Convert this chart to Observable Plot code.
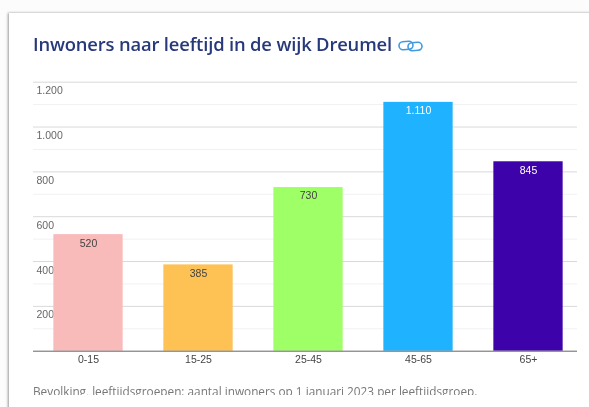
<!DOCTYPE html>
<html lang="nl">
<head>
<meta charset="utf-8">
<script src="https://cdn.jsdelivr.net/npm/d3@7"></script>
<script src="https://cdn.jsdelivr.net/npm/@observablehq/plot@0.6"></script>
<style>
html,body{margin:0;padding:0;background:#fff;}
#page{position:relative;width:589px;height:407px;overflow:hidden;background:#fcfcfc;filter:blur(.4px);}
#card{position:absolute;left:9px;top:13px;width:590px;height:400px;background:#fff;box-shadow:-1.5px -0.5px 2.5px rgba(0,0,0,.4);}
#title{position:absolute;left:33px;top:30px;margin:0;font:600 18.4px/28px "Open Sans","Noto Sans",sans-serif;color:#27397a;white-space:nowrap;letter-spacing:-.17px;}
#icon{position:absolute;left:398px;top:39px;}
#chart{position:absolute;left:0;top:72px;}
#caption{position:absolute;left:33px;top:381px;height:14px;overflow:hidden;margin:0;font:400 11.8px/20px "Open Sans","Noto Sans",sans-serif;color:#777;white-space:nowrap;}
#caption span{display:block;}
</style>
</head>
<body>
<div id="page">
  <div id="card"></div>
  <h1 id="title">Inwoners naar leeftijd in de wijk Dreumel</h1>
  <svg id="icon" width="25" height="14" viewBox="0 0 25 14" fill="none" stroke="#3f9be0" stroke-width="1.6">
    <rect x="1" y="2.5" width="14" height="8" rx="4" transform="rotate(-4 8 6.5)"/>
    <rect x="10" y="3.5" width="14" height="8" rx="4" transform="rotate(-4 17 7.5)"/>
  </svg>
  <div id="chart"></div>
  <p id="caption"><span>Bevolking, leeftijdsgroepen: aantal inwoners op 1 januari 2023 per leeftijdsgroep.</span></p>
</div>
<script>
const ageGroups = ["0-15", "15-25", "25-45", "45-65", "65+"];
const inhabitants = [520, 385, 730, 1110, 845];
const barColors = ["#f9baba", "#fdc154", "#9fff66", "#1eb2ff", "#3d02a9"];
const labelColors = ["#444444", "#444444", "#444444", "#ffffff", "#ffffff"];
const majorTicks = [200, 400, 600, 800, 1000, 1200];
const minorTicks = [100, 300, 500, 700, 900, 1100];

const rows = ageGroups.map((group, i) => ({group, value: inhabitants[i], color: barColors[i], label: labelColors[i]}));
const nl = v => String(v).replace(/\B(?=(\d{3})+$)/g, ".");
const font = '"Liberation Sans", Arial, sans-serif';

const plot = Plot.plot({
  width: 589,
  height: 300,
  marginTop: 9.7,
  marginBottom: 21.3,
  marginLeft: 33,
  marginRight: 12,
  style: {background: "transparent", fontFamily: font, fontSize: "10.5px", overflow: "visible"},
  x: {domain: ageGroups, range: [33, 583], paddingInner: 0.37, paddingOuter: 0.185, round: false, label: null, axis: null},
  y: {domain: [0, 1200], label: null, axis: null},
  marks: [
    Plot.ruleY(minorTicks, {stroke: "#f1f1f1", strokeWidth: 1}),
    Plot.ruleY(majorTicks, {stroke: "#d9d9d9", strokeWidth: 1}),
    Plot.text(majorTicks, {y: d => d, text: nl, frameAnchor: "left", textAnchor: "start", dx: 3, dy: 8.7, fill: "#666"}),
    Plot.barY(rows, {x: "group", y: "value", fill: "color"}),
    Plot.ruleY([0], {stroke: "#666", strokeWidth: 1}),
    Plot.text(rows, {x: "group", y: "value", text: d => nl(d.value), fill: "label", dy: 8.5}),
    Plot.axisX({tickSize: 0, tickPadding: 4, fill: "#444", label: null, fontSize: "10.5px"})
  ]
});
document.getElementById("chart").append(plot);
</script>
</body>
</html>
